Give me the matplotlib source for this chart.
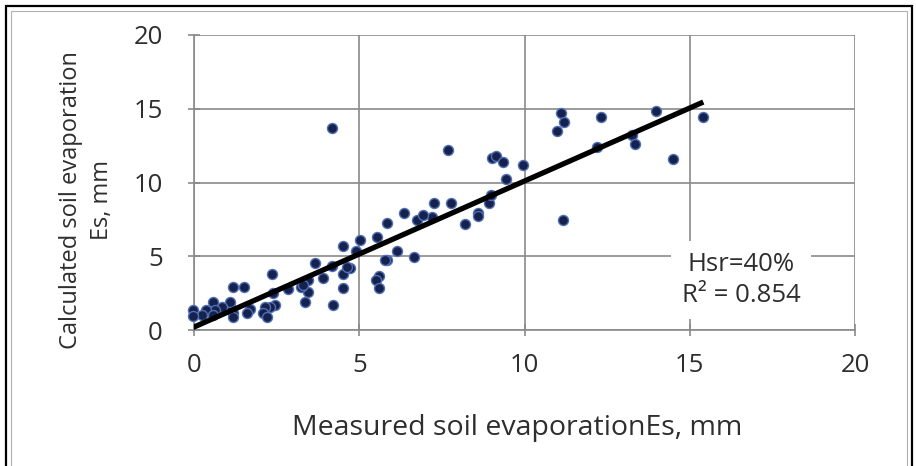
import matplotlib
matplotlib.use("Agg")
import matplotlib.pyplot as plt
from matplotlib.patches import Rectangle
import numpy as np

plt.rcParams['font.family'] = ['Open Sans', 'DejaVu Sans']

# measured (x) vs calculated (y) soil evaporation, mm
measured = [7.70, 9.01, 9.14, 9.34, 9.95, 9.44, 11.17, 7.26, 7.77, 7.20,
            8.20, 8.60, 8.60, 8.94, 8.98, 10.97, 11.10, 11.19, 12.30, 13.98,
            15.41, 13.24, 13.34, 14.48, 12.20, 4.18,
            6.35, 5.83, 6.74, 6.92, 5.02, 5.53, 4.50, 6.15, 6.66, 5.83,
            3.67, 4.90, 4.17, 4.50, 4.71, 3.89, 5.60, 5.52, 4.50, 5.61,
            4.22, 2.35, 1.19, 1.51, 3.44, 3.46, 3.36, 3.23, 2.85, 2.40,
            2.45, 2.30, 2.15, 2.10, 2.22, 1.69, 1.59, 1.19, 1.09, 1.09,
            0.84, 0.58, 0.64, 0.36, 0.23, -0.04, -0.04, 1.19, 0.58, 3.30,
            4.64, 5.79]
calculated = [12.20, 11.64, 11.80, 11.41, 11.19, 10.24, 7.46, 8.59, 8.59, 7.65,
              7.21, 7.93, 7.75, 8.60, 9.12, 13.51, 14.69, 14.12, 14.45, 14.85,
              14.45, 13.20, 12.59, 11.59, 12.43, 13.67,
              7.95, 7.23, 7.46, 7.80, 6.10, 6.28, 5.70, 5.35, 4.93, 4.72,
              4.56, 5.38, 4.35, 3.82, 4.18, 3.50, 3.66, 3.41, 2.82, 2.82,
              1.69, 3.80, 2.89, 2.89, 3.39, 2.60, 1.92, 2.94, 2.76, 2.49,
              1.69, 1.54, 1.58, 1.13, 0.90, 1.40, 1.17, 1.13, 1.58, 1.92,
              1.54, 1.92, 1.36, 1.36, 1.02, 1.36, 0.95, 0.86, 1.02, 3.05,
              4.29, 4.75]

# linear trendline
trend_slope = 0.99
trend_intercept = 0.2

ticks = [0, 5, 10, 15, 20]
note = "Hsr=40%\nR\u00b2 = 0.854"

txt = '#2e2e2e'
grid = '#8a8a8a'

fig = plt.figure(figsize=(9.16, 4.66), dpi=100)
ax = fig.add_axes([194 / 916, 136 / 466, 661 / 916, 295 / 466])

ax.scatter(measured, calculated, s=52, color='#16214d', edgecolors='#4f70b4',
           linewidths=1.0, zorder=3, clip_on=False)

xs = np.array([min(measured), max(measured)])
ax.plot(xs, trend_slope * xs + trend_intercept, color='black', lw=3.8,
        solid_capstyle='butt', zorder=4)

ax.set_xlim(0, 20)
ax.set_ylim(0, 20)
ax.set_xticks(ticks)
ax.set_yticks(ticks)
ax.grid(True, color=grid, lw=1.2)
ax.set_axisbelow(True)
for s in ['top', 'right']:
    ax.spines[s].set_visible(False)
for s in ['left', 'bottom']:
    ax.spines[s].set_color(grid)
    ax.spines[s].set_linewidth(1.2)
ax.tick_params(direction='inout', length=9, width=1.2, color=grid,
               labelsize=18.5, labelcolor=txt)
ax.tick_params(axis='y', pad=18)
ax.tick_params(axis='x', pad=12)

ax.set_xlabel("Measured soil evaporationEs, mm", fontsize=20.5, color=txt)
ax.xaxis.set_label_coords(0.489, -0.332)
ax.xaxis.label.set_va('center')
ax.set_ylabel("Calculated soil evaporation\nEs, mm", fontsize=17, color=txt,
              linespacing=1.4)
ax.yaxis.set_label_coords(-0.163, 0.44)
ax.yaxis.label.set_va('center')
ax.yaxis.label.set_ha('center')

ax.text(16.55, 3.39, note, ha='center', va='center', fontsize=18.5, color=txt,
        linespacing=1.35, zorder=5,
        bbox=dict(boxstyle='square,pad=0.4', fc='white', ec='none'))

# outer frame
fig.add_artist(Rectangle((6 / 916, -0.05), 906 / 916, 1.05 - 6 / 466,
                         transform=fig.transFigure, fill=False,
                         ec='black', lw=1.6))
fig.add_artist(Rectangle((11 / 916, -0.05), 896 / 916, 1.05 - 11 / 466,
                         transform=fig.transFigure, fill=False,
                         ec='#b0b0b0', lw=0.8))

fig.savefig("out.png", dpi=100)
